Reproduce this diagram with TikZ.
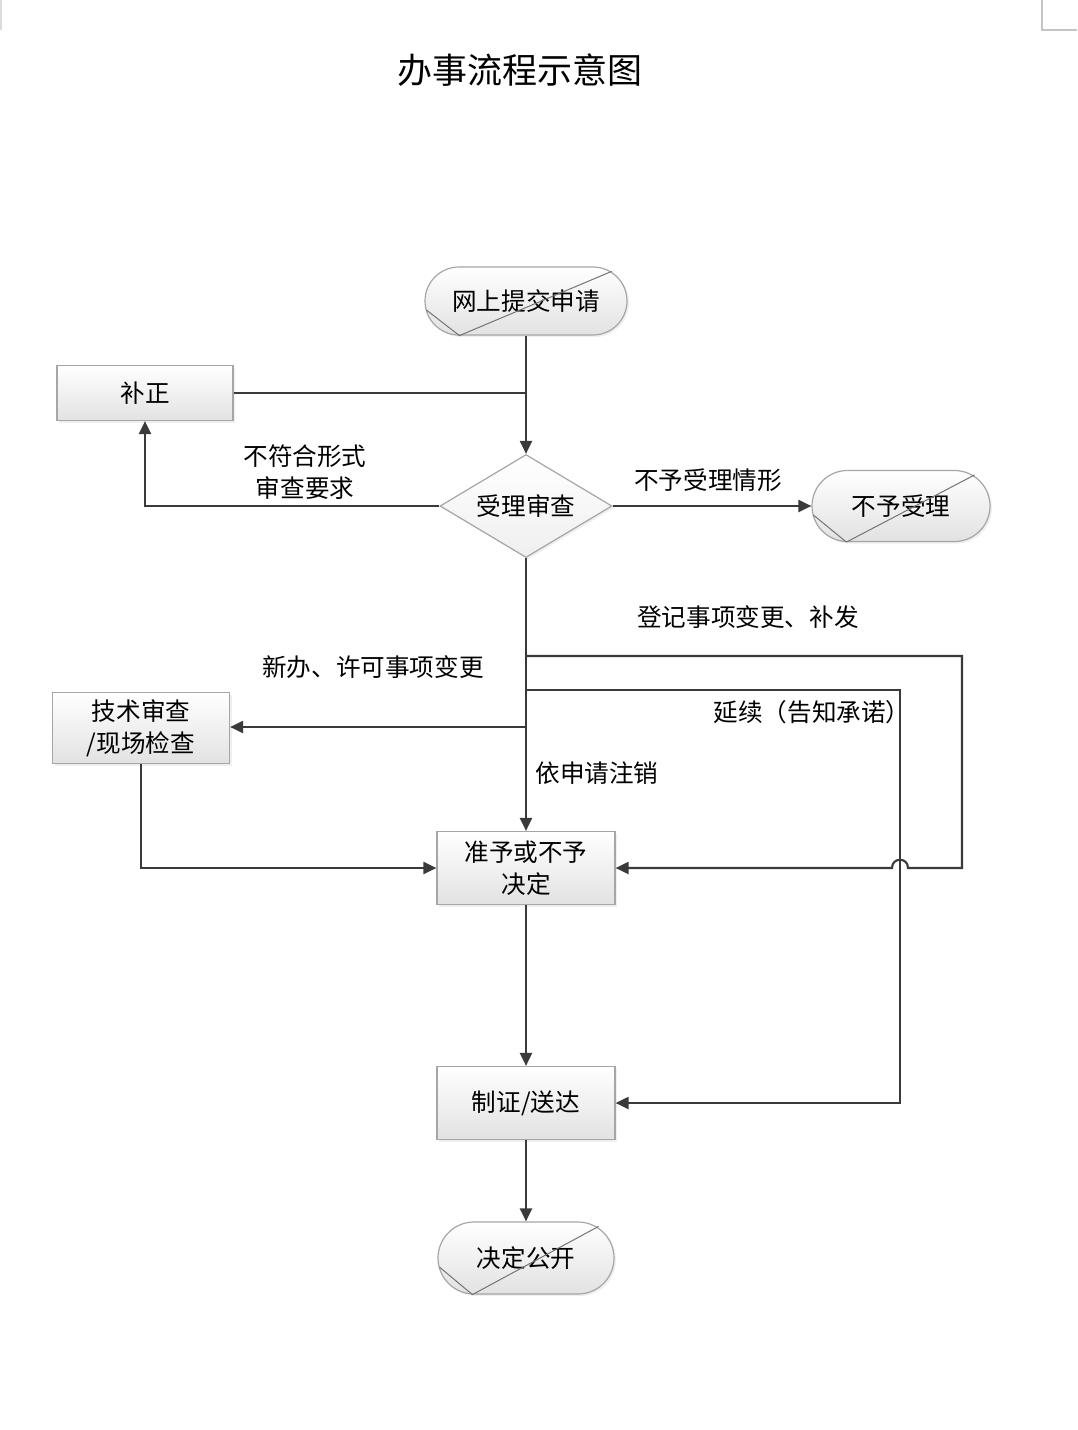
\documentclass[tikz,border=0pt]{standalone}
\usepackage{fontspec}
\setmainfont{Noto Sans CJK SC}
\usetikzlibrary{arrows.meta,positioning,shapes.geometric,calc,shadows}
\definecolor{FlowDark}{HTML}{3A3A3A}
\definecolor{FlowEdge}{HTML}{A6A6A6}
\definecolor{FlowShade}{HTML}{E2E2E2}
\definecolor{FlowMark}{HTML}{C4C4C4}
\newcommand{\lbl}{\fontsize{12.3}{16}\selectfont}
\newcommand{\termslash}[1]{\draw[slashline] ($(#1.west)+(2,9)$) -- ($(#1.south west)+(35,0)$) -- ($(#1.north east)+(-16,5)$);}
\tikzset{
  procbox/.style={draw=FlowEdge,line width=0.6pt,top color=white,bottom color=FlowShade,align=center,inner sep=0pt,font=\lbl,drop shadow={shadow xshift=1pt,shadow yshift=-1pt,opacity=0.12}},
  termbox/.style={procbox,rounded corners=17pt},
  judgebox/.style={procbox,diamond,aspect=1.67,bottom color=FlowShade!55},
  flowline/.style={line width=1.05pt,draw=FlowDark},
  flowarrow/.style={-{Triangle[length=6.5pt,width=6pt]},line width=1.05pt,draw=FlowDark},
  flowlabel/.style={font=\lbl,align=center,inner sep=0pt},
  slashline/.style={draw=FlowEdge!70!black,line width=0.5pt},
  cropmark/.style={draw=FlowMark,line width=0.8pt}
}
\begin{document}
\begin{tikzpicture}[x=0.5pt,y=-0.5pt]
\fill[white] (0,0) rectangle (1077,1430);
\useasboundingbox (0,0) rectangle (1077,1430);
\draw[cropmark] (1042,0) -- (1042,30) -- (1077,30);
\draw[cropmark,draw=FlowMark!60] (1,0) -- (1,30);

\node[font=\fontsize{17.5}{20}\selectfont] (title) at (520,70) {办事流程示意图};

% main column
\node[termbox,minimum width=101pt,minimum height=34pt] (submit) at (526,301) {网上提交申请};
\node[judgebox,minimum width=86pt,minimum height=51.5pt] (check) at (526,506) {受理审查};
\node[procbox,minimum width=89pt,minimum height=36.5pt] (decide) at (526,868) {准予或不予\\决定};
\node[procbox,minimum width=89pt,minimum height=36.5pt] (issue) at (526,1103) {制证/送达};
\node[termbox,minimum width=88pt,minimum height=36pt,rounded corners=18pt] (publish) at (526,1258) {决定公开};

% side boxes
\node[procbox,minimum width=88pt,minimum height=27.5pt] (fix) at (145,393) {补正};
\node[termbox,minimum width=89pt,minimum height=35.5pt,rounded corners=17.75pt] (refuse) at (901,506) {不予受理};
\node[procbox,minimum width=88.5pt,minimum height=35.5pt] (tech) at (141,728) {技术审查\\/现场检查};

\termslash{submit}
\termslash{refuse}
\termslash{publish}

% junctions on the main line
\coordinate (jfix) at (526,393);
\coordinate (jreg) at (526,656);
\coordinate (jext) at (526,690);
\coordinate (jnew) at (526,727);
\coordinate (regturn) at (962,868);
\coordinate (hopR) at (908,868);
\coordinate (hopL) at (892,868);
\coordinate (extturn) at (900,690);

\draw[flowarrow] (submit) -- (check);
\draw[flowline] (fix.east) -- (jfix);
\draw[flowarrow] (check.west) -| (fix.south);
\draw[flowarrow] (check.east) -- (refuse.west);
\draw[flowarrow] (check.south) -- (decide.north);
\draw[flowarrow] (jnew) -- (jnew -| tech.east);
\draw[flowarrow] (tech.south) |- (decide.west);
\draw[flowarrow] (jreg) -| (regturn) -- (hopR) .. controls +(0,-11) and +(0,-11) .. (hopL) -- (decide.east);
\draw[flowarrow] (jext) -- (extturn) |- (issue.east);
\draw[flowarrow] (decide) -- (issue);
\draw[flowarrow] (issue) -- (publish);

% labels
\node[flowlabel] (lbfix) at (305,472) {不符合形式\\审查要求};
\node[flowlabel] (lbrefuse) at (708,480) {不予受理情形};
\node[flowlabel] (lbreg) at (748,617) {登记事项变更、补发};
\node[flowlabel] (lbnew) at (373,667) {新办、许可事项变更};
\node[flowlabel] (lbext) at (812,712) {延续（告知承诺）};
\node[flowlabel] (lbcancel) at (597,773) {依申请注销};
\end{tikzpicture}
\end{document}
